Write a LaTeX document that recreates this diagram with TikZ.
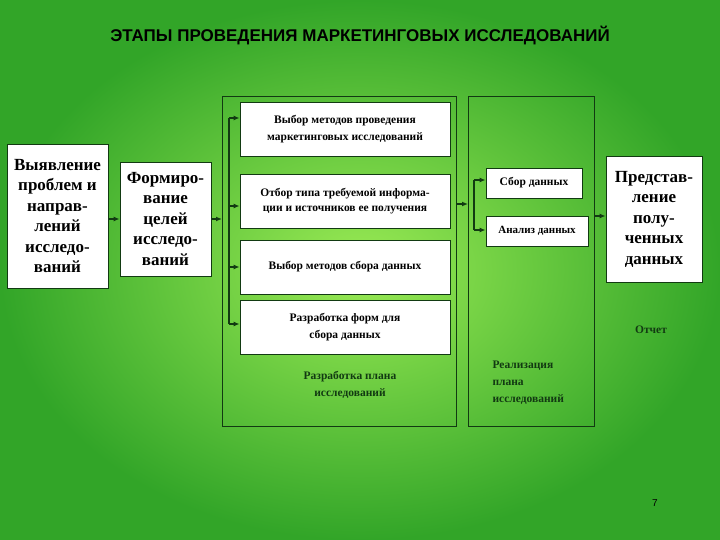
\documentclass[tikz,border=0pt]{standalone}
\usepackage{fontspec}
\setmainfont{Liberation Serif}
\newfontfamily\sansf{Liberation Sans}
\usetikzlibrary{arrows.meta}
\definecolor{dg}{HTML}{123A12}
\begin{document}
\begin{tikzpicture}[x=1pt,y=-1pt,
 box/.style={draw=dg,fill=white,line width=0.8pt,align=center,inner sep=1pt,font=\bfseries},
 frame/.style={draw=dg,line width=0.8pt},
 arr/.style={-{Latex[length=6pt,width=5pt]},draw=dg,line width=1.2pt},
 ln/.style={draw=dg,line width=1.2pt},
 lbl/.style={text=dg,font=\bfseries\footnotesize,align=center}]
\useasboundingbox (0,0) rectangle (720,540);
\shade[inner color={rgb,255:red,155;green,235;blue,85},outer color={rgb,255:red,50;green,165;blue,40}] (0,0) rectangle (720,540);
\node[font=\sansf\bfseries\fontsize{17}{19}\selectfont] (title) at (360,36) {ЭТАПЫ ПРОВЕДЕНИЯ МАРКЕТИНГОВЫХ ИССЛЕДОВАНИЙ};
% left boxes
\node[box,minimum width=101,minimum height=144,font=\bfseries\fontsize{17}{20.5}\selectfont] (b1) at (57.5,216) {Выявление\\проблем и\\направ-\\лений\\исследо-\\ваний};
\node[box,minimum width=91,minimum height=114,font=\bfseries\fontsize{17}{20.5}\selectfont] (b2) at (165.5,219) {Формиро-\\вание\\целей\\исследо-\\ваний};
% frame 1
\draw[frame] (222,96) rectangle (456,426);
\node[box,minimum width=210,minimum height=54,font=\bfseries\fontsize{11.5}{17}\selectfont] (m1) at (345,129) {Выбор методов проведения\\маркетинговых исследований};
\node[box,minimum width=210,minimum height=54,font=\bfseries\fontsize{11.5}{15}\selectfont] (m2) at (345,201) {Отбор типа требуемой информа-\\ции и источников ее получения};
\node[box,minimum width=210,minimum height=54,font=\bfseries\fontsize{11.5}{15}\selectfont] (m3) at (345,267) {Выбор методов сбора данных};
\node[box,minimum width=210,minimum height=54,font=\bfseries\fontsize{11.5}{17}\selectfont] (m4) at (345,327) {Разработка форм для\\сбора данных};
\node[lbl,font=\bfseries\fontsize{11.5}{17}\selectfont] (t1) at (350,385) {Разработка плана\\исследований};
% frame 2
\draw[frame] (468,96) rectangle (594,426);
\node[box,minimum width=96,minimum height=30,font=\bfseries\fontsize{11.5}{12}\selectfont] (s1) at (534,183) {Сбор данных};
\node[box,minimum width=102,minimum height=30,font=\bfseries\fontsize{11}{12}\selectfont] (s2) at (537,231) {Анализ данных};
\node[lbl,align=left,font=\bfseries\fontsize{11.5}{17}\selectfont,anchor=north west] (t2) at (489,357) {Реализация\\плана\\исследований};
% right
\node[box,minimum width=96,minimum height=126,font=\bfseries\fontsize{17}{20.5}\selectfont] (p) at (654,219) {Представ-\\ление\\полу-\\ченных\\данных};
\node[lbl,font=\bfseries\fontsize{11.5}{12}\selectfont] (ot) at (651,330) {Отчет};
\node[font=\sansf\fontsize{10}{12}\selectfont] (pg) at (655,503) {7};
% arrows
\coordinate (f1in) at (222,219);
\coordinate (f2in) at (468,204);
\coordinate (f2out) at (594,216);
\draw[arr] (b1.east |- 0,219) -- (b2.west |- 0,219);
\draw[arr] (b2.east |- 0,219) -- (f1in);
\draw[ln] (229,118) -- (229,324);
\foreach \m/\y in {m1/118,m2/206,m3/267,m4/324} \draw[arr] (229,\y) -- (\m.west |- 0,\y);
\draw[arr] (456,204) -- (f2in);
\draw[ln] (474,180) -- (474,230);
\draw[arr] (474,180) -- (s1.west |- 0,180);
\draw[arr] (474,230) -- (s2.west |- 0,230);
\draw[arr] (f2out) -- (p.west |- 0,216);
\end{tikzpicture}
\end{document}
